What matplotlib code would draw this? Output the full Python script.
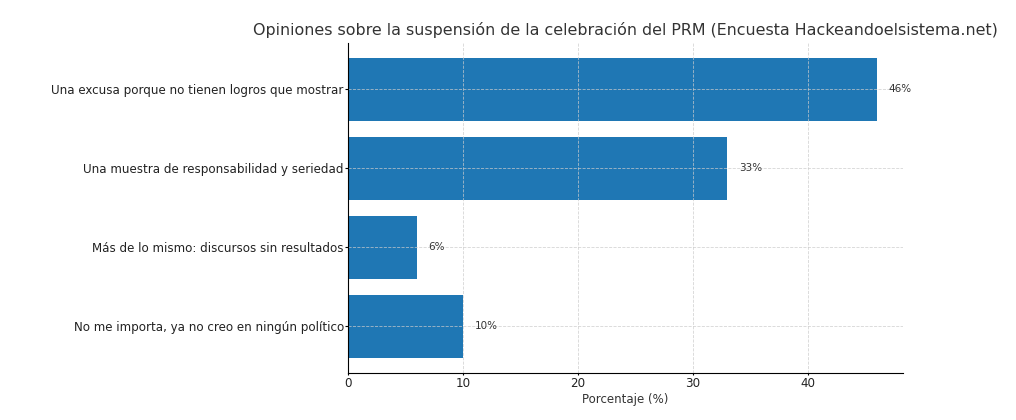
import matplotlib
matplotlib.use("Agg")
import matplotlib.pyplot as plt

categories = [
    "Una excusa porque no tienen logros que mostrar",
    "Una muestra de responsabilidad y seriedad",
    "Más de lo mismo: discursos sin resultados",
    "No me importa, ya no creo en ningún político",
]
percentages = [46, 33, 6, 10]

text_color = "#333333"

fig = plt.figure(figsize=(10.16, 4.2), dpi=100)
ax = fig.add_axes([0.3425, 0.112, 0.5465, 0.786])

# Horizontal bars, first category on top
bars = ax.barh(categories, percentages, height=0.8, color="#1f77b4")
ax.invert_yaxis()

# Value labels next to each bar
for bar, value in zip(bars, percentages):
    ax.text(bar.get_width() + 1, bar.get_y() + bar.get_height() / 2, f"{value}%",
            va="center", ha="left", fontsize=7.5, color=text_color)

ax.set_title("Opiniones sobre la suspensión de la celebración del PRM (Encuesta Hackeandoelsistema.net)",
             fontsize=11.4, color=text_color, pad=6)
ax.set_xlabel("Porcentaje (%)", fontsize=8.5, color=text_color, labelpad=2)

ax.tick_params(axis="y", labelsize=8.6, labelcolor="#222222", length=2, pad=1)
ax.tick_params(axis="x", labelsize=8.6, labelcolor="#222222", length=1.5, pad=1.5)

ax.grid(True, linestyle="--", linewidth=0.6, color="#cccccc", alpha=0.8)
ax.spines["top"].set_visible(False)
ax.spines["right"].set_visible(False)

fig.savefig("out.png", dpi=100)
